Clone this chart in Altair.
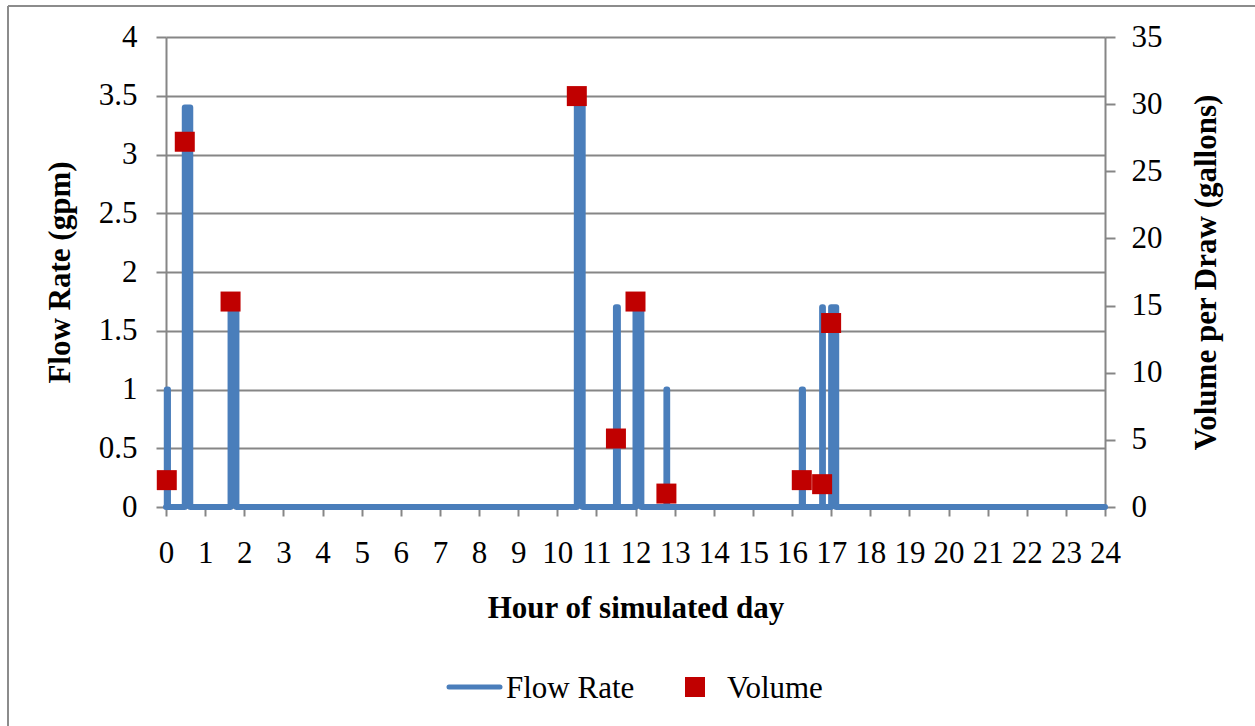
import altair as alt
import pandas as pd

# Axis tick values
hour_ticks = list(range(0, 25))
flow_ticks = [0, 0.5, 1, 1.5, 2, 2.5, 3, 3.5, 4]
volume_ticks = [0, 5, 10, 15, 20, 25, 30, 35]

# Hot-water draws over the simulated day
draw_start = [0.02, 0.48, 1.65, 10.50, 11.50, 12.00, 12.79, 16.25, 16.77, 17.00]
draw_end = [0.05, 0.62, 1.80, 10.65, 11.55, 12.15, 12.81, 16.28, 16.79, 17.13]
flow_gpm = [1.0, 3.4, 1.7, 3.5, 1.7, 1.7, 1.0, 1.0, 1.7, 1.7]
volume_gal = [2.0, 27.2, 15.3, 30.6, 5.1, 15.3, 1.0, 2.0, 1.7, 13.7]

series_names = ["Flow Rate", "Volume"]

BLUE = "#4A7EBB"
RED = "#C00000"
GRAY = "#868686"
FONT = "Liberation Serif"
FS = 31

# Flow trace: zero baseline with a rectangular pulse for each draw
trace_hour, trace_gpm = [0.0], [0.0]
for s, e, f in zip(draw_start, draw_end, flow_gpm):
    trace_hour += [s, s, e, e]
    trace_gpm += [0.0, f, f, 0.0]
trace_hour.append(24.0)
trace_gpm.append(0.0)
flow_df = pd.DataFrame({"hour": trace_hour, "gpm": trace_gpm, "seq": range(len(trace_hour))})

vol_df = pd.DataFrame({"hour": draw_start, "gal": volume_gal})

x_enc = alt.X(
    "hour:Q",
    scale=alt.Scale(domain=[0, 24], nice=False, zero=False),
    axis=alt.Axis(
        values=hour_ticks, grid=False, tickSize=9, tickWidth=2, tickColor=GRAY,
        domainColor=GRAY, domainWidth=2, labelPadding=22, labelFlush=False,
        labelOverlap=False, title="Hour of simulated day", titleY=110,
        titleBaseline="alphabetic",
    ),
)

flow_line = alt.Chart(flow_df).mark_line(
    color=BLUE, strokeWidth=6, strokeCap="round", strokeJoin="round"
).encode(
    x=x_enc,
    y=alt.Y(
        "gpm:Q",
        scale=alt.Scale(domain=[0, 4], nice=False),
        axis=alt.Axis(
            values=flow_ticks, format="~g", grid=True, gridColor=GRAY, gridWidth=2,
            tickSize=10, tickWidth=2, tickColor=GRAY, domainColor=GRAY, domainWidth=2,
            labelPadding=19, title="Flow Rate (gpm)", titleX=-97, titleY=235,
            titleBaseline="alphabetic",
        ),
    ),
    order="seq:Q",
)

vol_points = alt.Chart(vol_df).mark_square(color=RED, size=400, opacity=1).encode(
    x=x_enc,
    y=alt.Y(
        "gal:Q",
        scale=alt.Scale(domain=[0, 35], nice=False),
        axis=alt.Axis(
            orient="right", values=volume_ticks, grid=False, tickSize=10, tickWidth=2,
            tickColor=GRAY, domainColor=GRAY, domainWidth=2, labelPadding=16,
            title="Volume per Draw (gallons)", titleAngle=270, titleX=110, titleY=235,
            titleBaseline="alphabetic",
        ),
    ),
)

one = pd.DataFrame({"k": [0]})

# Legend row under the x-axis title
leg_line = alt.Chart(one).mark_rule(color=BLUE, strokeWidth=5, strokeCap="round").encode(
    x=alt.value(283), x2=alt.value(334), y=alt.value(650)
)
leg_line_text = alt.Chart(one).mark_text(
    text=series_names[0], font=FONT, fontSize=FS, align="left", baseline="alphabetic"
).encode(x=alt.value(340), y=alt.value(661))
leg_square = alt.Chart(one).mark_square(color=RED, size=400, opacity=1).encode(
    x=alt.value(529), y=alt.value(650)
)
leg_square_text = alt.Chart(one).mark_text(
    text=series_names[1], font=FONT, fontSize=FS, align="left", baseline="alphabetic"
).encode(x=alt.value(561), y=alt.value(661))

# Chart-area frame
frame_top = alt.Chart(one).mark_rule(color="#8c8c8c", strokeWidth=2).encode(
    x=alt.value(-158), x2=alt.value(1100), y=alt.value(-31)
)
frame_left = alt.Chart(one).mark_rule(color="#8c8c8c", strokeWidth=2).encode(
    x=alt.value(-158), y=alt.value(-31), y2=alt.value(700)
)

chart = alt.layer(
    flow_line, vol_points, leg_line, leg_line_text, leg_square, leg_square_text,
    frame_top, frame_left,
).resolve_scale(y="independent").properties(
    width=939,
    height=470,
    autosize=alt.AutoSizeParams(type="none"),
    padding={"left": 166, "top": 37, "right": 150, "bottom": 219},
    background="white",
).configure_view(stroke=None).configure_axis(
    labelFont=FONT, labelFontSize=FS, labelColor="black",
    titleFont=FONT, titleFontSize=FS, titleFontWeight="bold", titleColor="black",
)

chart.save("out.html", embed_options={"renderer": "svg", "actions": False})
